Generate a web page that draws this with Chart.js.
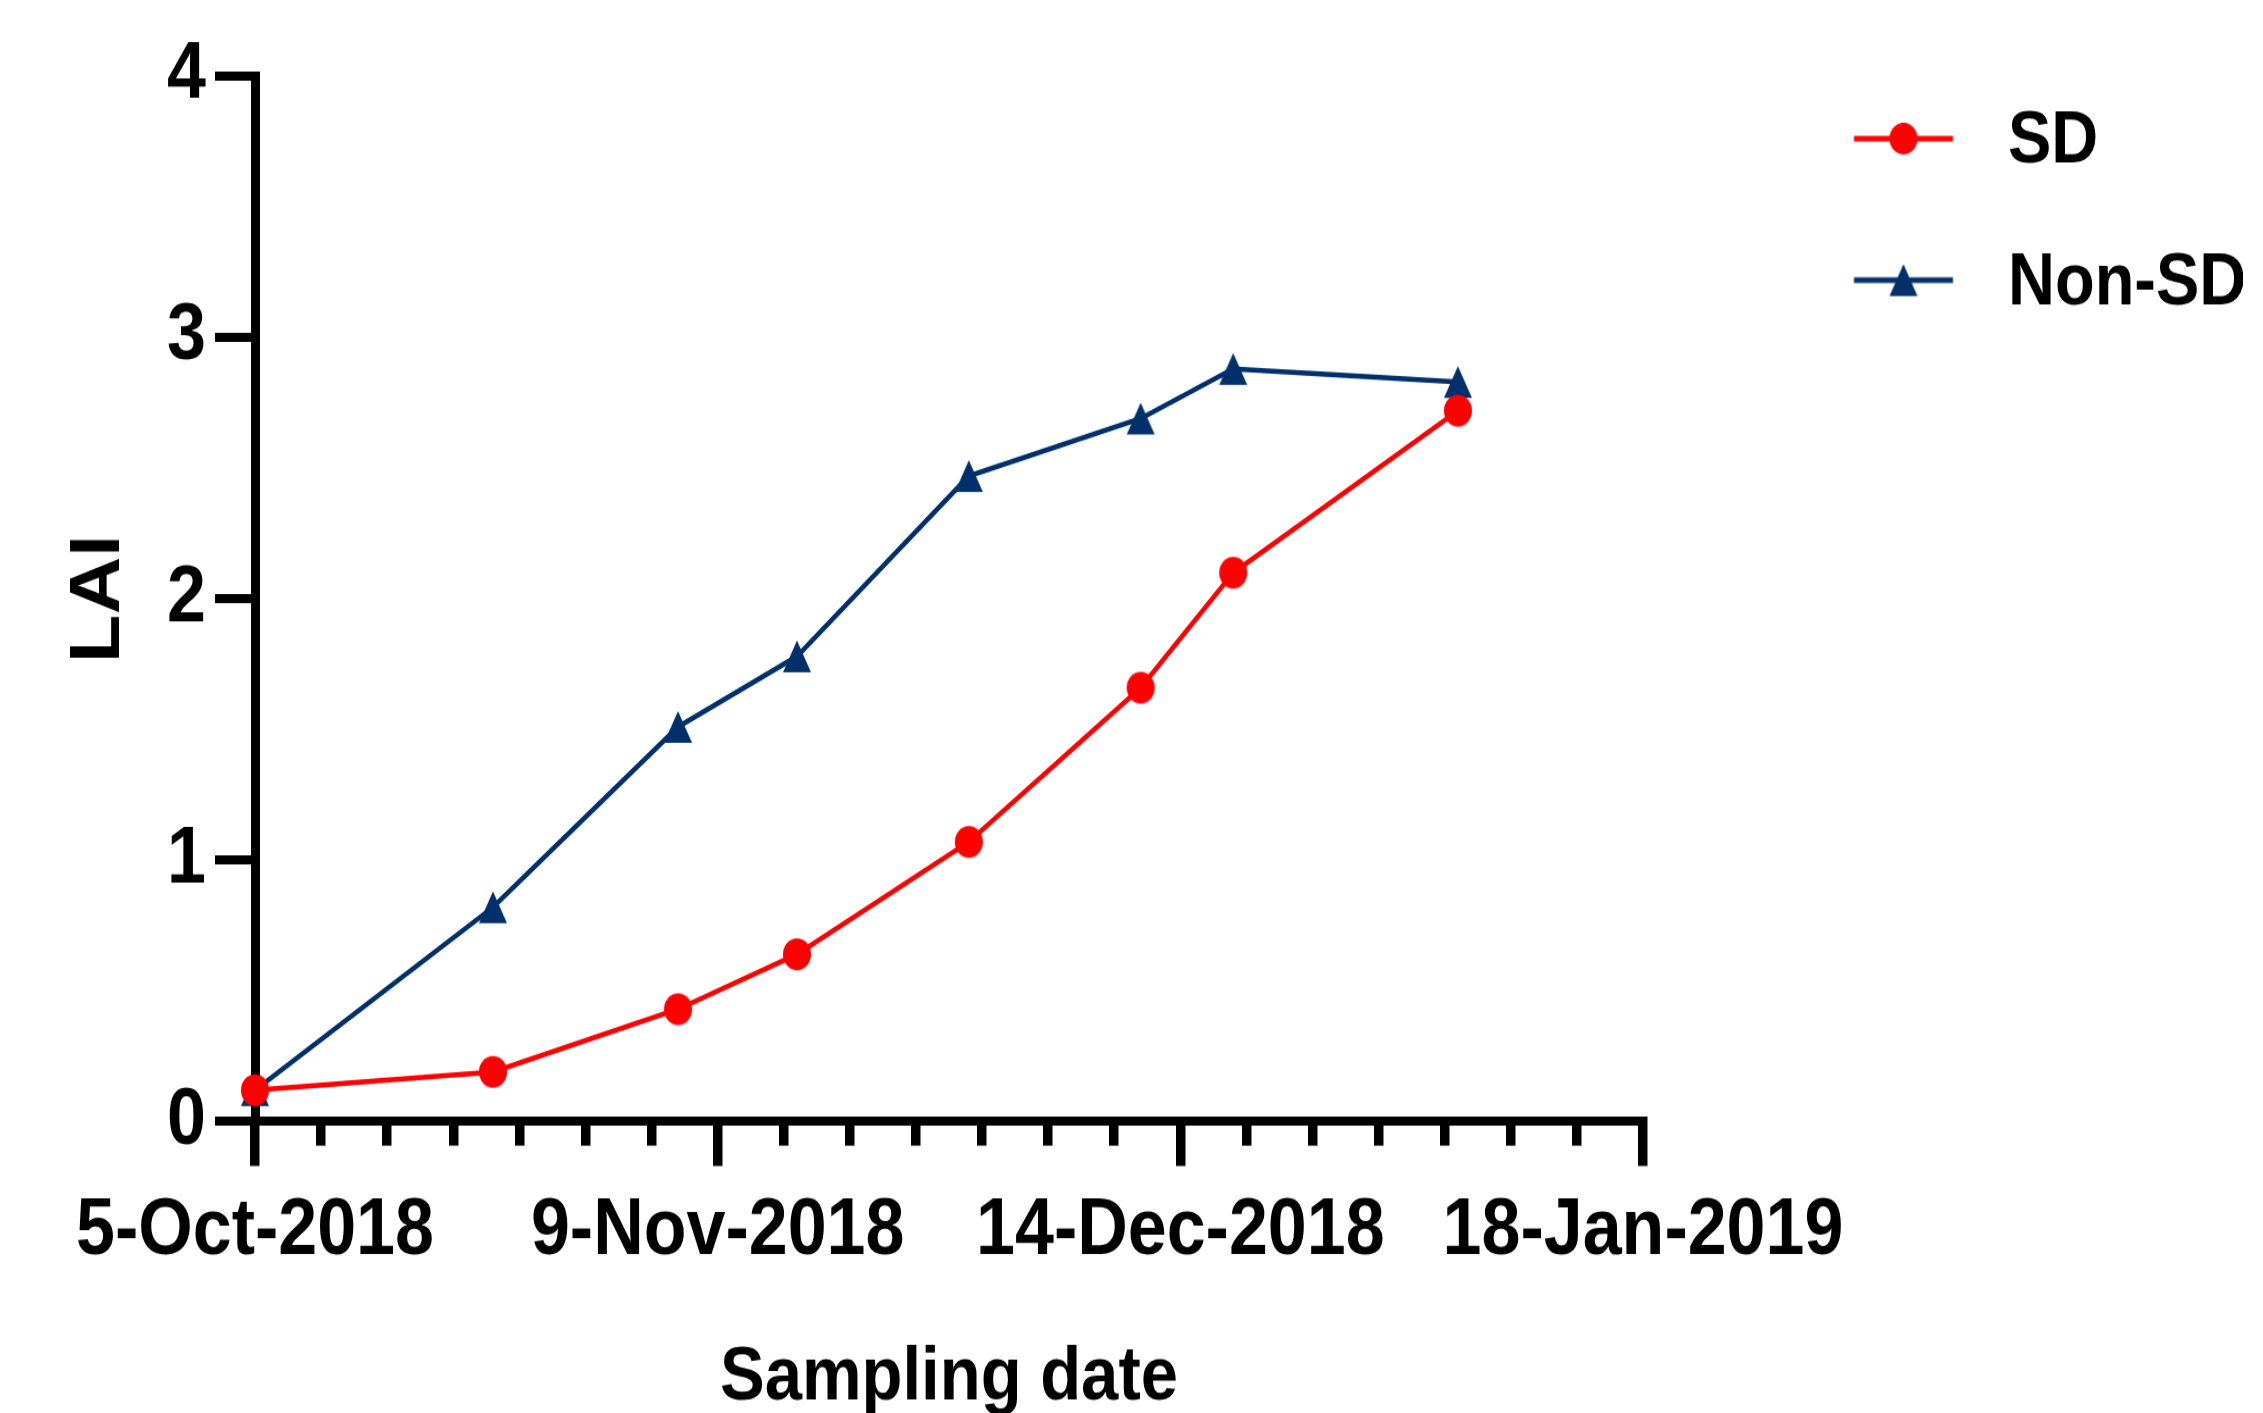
<!DOCTYPE html>
<html>
<head>
<meta charset="utf-8">
<style>
html,body{margin:0;padding:0;background:#fff;overflow:hidden;width:2263px;height:1413px;}
#wrap{position:absolute;left:0;top:0;width:2263px;height:1244px;transform-origin:0 0;transform:scaleY(1.13585);}
canvas{display:block;}
</style>
<script src="https://cdn.jsdelivr.net/npm/chart.js@4.4.1/dist/chart.umd.min.js"></script>
</head>
<body>
<div id="wrap"><canvas id="c" width="2263" height="1244"></canvas></div>
<script>
// ---- data ----
const samplingDates = ['2018-10-05','2018-10-23','2018-11-06','2018-11-15','2018-11-28','2018-12-11','2018-12-18','2019-01-04'];
const sdLAI    = [0.12, 0.19, 0.43, 0.64, 1.07, 1.66, 2.10, 2.72];
const nonSdLAI = [0.12, 0.82, 1.51, 1.78, 2.47, 2.69, 2.88, 2.83];
const seriesNames = ['SD', 'Non-SD'];
const xTickDates  = ['2018-10-05','2018-11-09','2018-12-14','2019-01-18'];
const xTickLabels = ['5-Oct-2018','9-Nov-2018','14-Dec-2018','18-Jan-2019'];
const xAxisTitle = 'Sampling date';
const yAxisTitle = 'LAI';

// ---- helpers ----
const FONT = "'Liberation Sans', Arial, Helvetica, sans-serif";
const RED = '#FF0000';
const NAVY = '#00306B';
const DAY0 = Date.UTC(2018, 9, 5);
function dayOffset(s){ const p = s.split('-').map(Number); return Math.round((Date.UTC(p[0], p[1]-1, p[2]) - DAY0) / 86400000); }
const xMin = dayOffset(xTickDates[0]);
const xMax = dayOffset(xTickDates[xTickDates.length-1]);
const tickMap = {};
xTickDates.forEach((d,i) => { tickMap[dayOffset(d)] = xTickLabels[i]; });

function drawShape(ctx, shape, cx, cy, size, color){
  ctx.fillStyle = color;
  ctx.beginPath();
  if (shape === 'circle') {
    ctx.arc(cx, cy, size/2, 0, Math.PI*2);
  } else {
    ctx.moveTo(cx, cy - size/2);
    ctx.lineTo(cx + size/2, cy + size/2);
    ctx.lineTo(cx - size/2, cy + size/2);
    ctx.closePath();
  }
  ctx.fill();
}
function markerImg(shape, color){
  const c = document.createElement('canvas');
  c.width = 30; c.height = 30;
  drawShape(c.getContext('2d'), shape, 15, 15, 28, color);
  return c;
}
const LEG_W = 273;
function legendImg(shape, color){
  const c = document.createElement('canvas');
  c.width = LEG_W; c.height = 34;
  const g = c.getContext('2d');
  const cy = 13.9;
  g.strokeStyle = color; g.lineWidth = 5;
  g.beginPath(); g.moveTo(151.5, cy); g.lineTo(250.5, cy); g.stroke();
  drawShape(g, shape, 201, cy, 28, color);
  return c;
}
const pointImgs  = [markerImg('circle', RED), markerImg('triangle', NAVY)];
const legendImgs = [legendImg('circle', RED), legendImg('triangle', NAVY)];

const sdPoints    = samplingDates.map((d,i) => ({x: dayOffset(d), y: sdLAI[i]}));
const nonSdPoints = samplingDates.map((d,i) => ({x: dayOffset(d), y: nonSdLAI[i]}));

new Chart(document.getElementById('c'), {
  type: 'line',
  data: {
    datasets: [
      {label: seriesNames[0], data: sdPoints, borderColor: RED, backgroundColor: RED, borderWidth: 4.5,
       pointStyle: pointImgs[0], pointRadius: 14, pointHoverRadius: 14, clip: false, tension: 0, fill: false},
      {label: seriesNames[1], data: nonSdPoints, borderColor: NAVY, backgroundColor: NAVY, borderWidth: 4.5,
       pointStyle: pointImgs[1], pointRadius: 14, pointHoverRadius: 14, clip: false, tension: 0, fill: false}
    ]
  },
  options: {
    responsive: false,
    devicePixelRatio: 1,
    animation: false,
    events: [],
    layout: {padding: {top: 33.1, right: 20, bottom: 0, left: 0}},
    plugins: {
      tooltip: {enabled: false},
      legend: {
        position: 'right',
        align: 'start',
        maxWidth: 600,
        labels: {
          usePointStyle: true,
          pointStyleWidth: LEG_W,
          padding: 59.5,
          color: '#000',
          font: {size: 65, weight: 'bold', family: FONT},
          generateLabels(chart){
            const items = Chart.defaults.plugins.legend.labels.generateLabels(chart);
            items.forEach(it => { it.pointStyle = legendImgs[it.datasetIndex]; });
            return items;
          }
        }
      }
    },
    scales: {
      x: {
        type: 'linear',
        min: xMin, max: xMax,
        ticks: {
          stepSize: 5, autoSkip: false, maxRotation: 0, minRotation: 0, padding: 15.9,
          color: '#000', font: {size: 70, weight: 'bold', family: FONT, lineHeight: 1.2},
          callback: v => (tickMap[v] !== undefined ? tickMap[v] : '')
        },
        grid: {
          drawOnChartArea: false, drawTicks: true, tickLength: 39.1, lineWidth: 9.5, color: '#000',
          tickBorderDash: ctx => (ctx.tick && tickMap[ctx.tick.value] !== undefined) ? [] : [17.6, 1000]
        },
        border: {display: true, width: 8, color: '#000'},
        title: {display: true, text: xAxisTitle, color: '#000',
                font: {size: 67, weight: 'bold', family: FONT, lineHeight: 0.9045}, padding: {top: 0, bottom: 0}},
        afterFit(s){ s.height = 1244 - 987.4; }
      },
      y: {
        type: 'linear',
        min: 0, max: 4,
        ticks: {stepSize: 1, padding: 9, color: '#000', font: {size: 70, weight: 'bold', family: FONT}},
        grid: {drawOnChartArea: false, drawTicks: true, tickLength: 40, lineWidth: 8, color: '#000'},
        border: {display: true, width: 9, color: '#000'},
        title: {display: true, text: yAxisTitle, color: '#000',
                font: {size: 70, weight: 'bold', family: FONT, lineHeight: 1}, padding: {top: 64.4, bottom: 0}},
        afterFit(s){ s.width = 255; s.paddingTop = 67.1; }
      }
    }
  }
});
</script>
</body>
</html>
